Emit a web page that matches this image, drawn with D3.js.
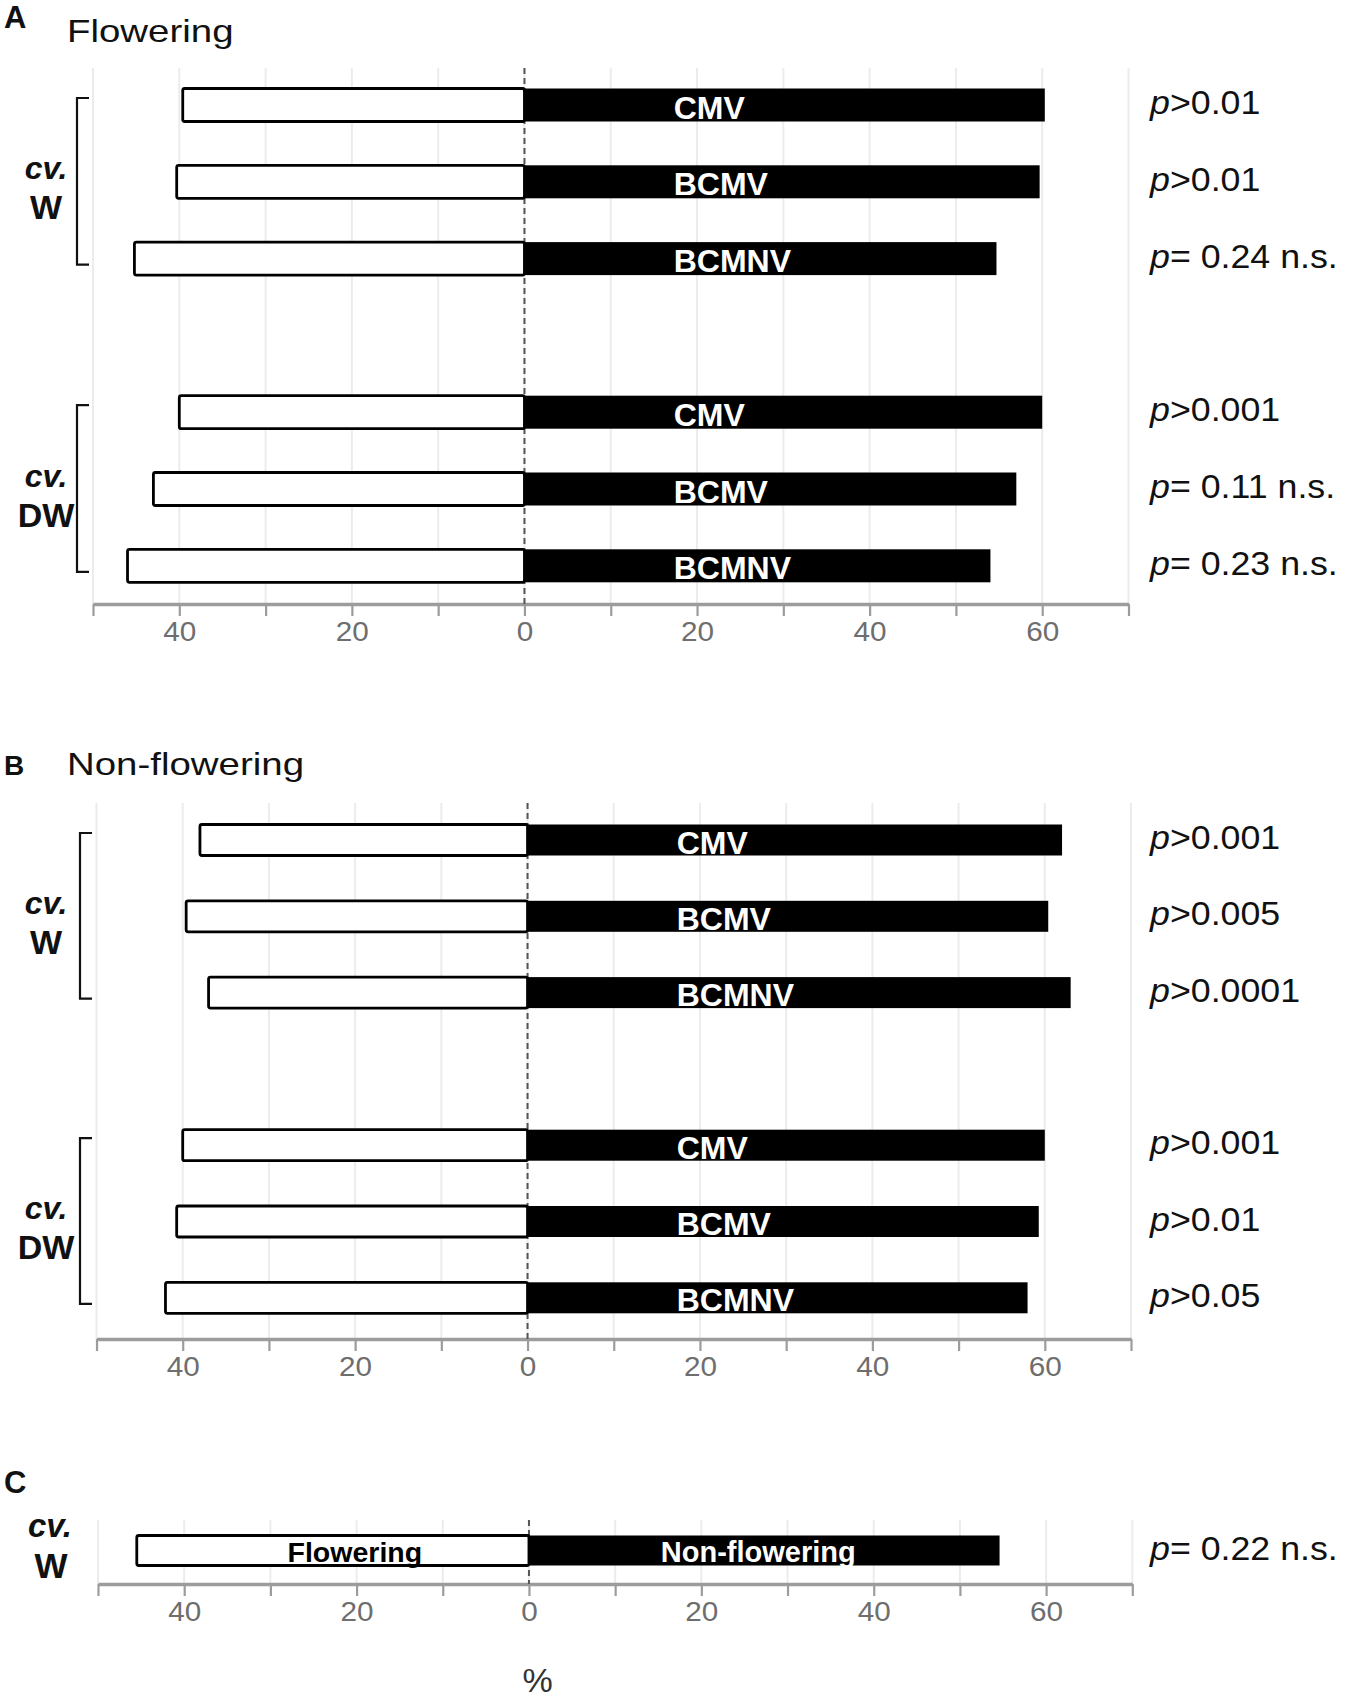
<!DOCTYPE html>
<html>
<head>
<meta charset="utf-8">
<script src="https://cdn.jsdelivr.net/npm/d3@7"></script>
<style>
  body { margin: 0; background: #fff; }
  svg text { font-family: "Liberation Sans", Arial, sans-serif; }
</style>
</head>
<body>
<div id="chart"></div>
<script>
// ---- data ----
const viruses = ["CMV", "BCMV", "BCMNV"];
const cultivars = ["W", "DW"];
const slotKeys = ["W-CMV", "W-BCMV", "W-BCMNV", "gap", "DW-CMV", "DW-BCMV", "DW-BCMNV"];

const xTickValues = [-50, -40, -30, -20, -10, 0, 10, 20, 30, 40, 50, 60, 70];
const xTickLabels = ["", "40", "", "20", "", "0", "", "20", "", "40", "", "60", ""];

// A: flowering plants (left = white bar, right = black bar), %
const floweringLeft = [39.6, 40.3, 45.2, 40.0, 43.0, 46.0];
const floweringRight = [60.3, 59.7, 54.7, 60.0, 57.0, 54.0];
const floweringP = ["p>0.01", "p>0.01", "p= 0.24 n.s.", "p>0.001", "p= 0.11 n.s.", "p= 0.23 n.s."];

// B: non-flowering plants
const nonFloweringLeft = [38.0, 39.6, 37.0, 40.0, 40.7, 42.0];
const nonFloweringRight = [62.0, 60.4, 63.0, 60.0, 59.3, 58.0];
const nonFloweringP = ["p>0.001", "p>0.005", "p>0.0001", "p>0.001", "p>0.01", "p>0.05"];

// C: flowering vs non-flowering, cv. W
const stageLabels = ["Flowering", "Non-flowering"];
const stageLeft = [45.5];
const stageRight = [54.6];
const stageP = ["p= 0.22 n.s."];

// ---- drawing ----
const svg = d3.select("#chart").append("svg")
    .attr("width", 1350)
    .attr("height", 1707);

function rowsFor(left, right, pvals) {
    let rows = [];
    let i = 0;
    for (let c of cultivars) {
        for (let v of viruses) {
            rows.push({ slot: c + "-" + v, cultivar: c, label: v, left: left[i], right: right[i], p: pvals[i] });
            i++;
        }
    }
    return rows;
}

function pText(g, x, y, str) {
    let t = g.append("text")
        .attr("transform", `translate(${x},${y}) scale(1.1,1)`)
        .attr("font-size", 32.5)
        .attr("fill", "#111");
    t.append("tspan").attr("font-style", "italic").text(str[0]);
    t.append("tspan").text(str.slice(1));
}

function title(letter, name, y, letterY, letterSize) {
    svg.append("text")
        .attr("x", 4).attr("y", letterY)
        .attr("font-weight", "bold").attr("font-size", letterSize)
        .attr("fill", "#111")
        .text(letter);
    if (name) {
        svg.append("text")
            .attr("transform", `translate(67,${y}) scale(1.22,1)`)
            .attr("font-size", 31.5).attr("fill", "#111")
            .text(name);
    }
}

function drawPanel(opts) {
    const x = d3.scaleLinear().domain([-50, 70]).range(opts.xRange);
    const y = d3.scalePoint().domain(opts.slots).range(opts.yRange);
    const g = svg.append("g");

    // vertical grid
    g.selectAll("line.grid").data(xTickValues).join("line")
        .attr("class", "grid")
        .attr("x1", d => x(d)).attr("x2", d => x(d))
        .attr("y1", opts.top).attr("y2", opts.axisY)
        .attr("stroke", "#ececec").attr("stroke-width", 2);

    // axis
    const axis = d3.axisBottom(x)
        .tickValues(xTickValues)
        .tickFormat((d, i) => xTickLabels[i])
        .tickSize(12).tickSizeOuter(0).tickPadding(6);
    g.append("g")
        .attr("transform", `translate(0,${opts.axisY})`)
        .call(axis)
        .attr("font-family", "Liberation Sans, Arial, sans-serif")
        .attr("font-size", 27)
        .call(a => a.select(".domain").attr("stroke", "#9c9c9c").attr("stroke-width", 3.5))
        .call(a => a.selectAll(".tick line").attr("stroke", "#9c9c9c").attr("stroke-width", 2.2))
        .call(a => a.selectAll(".tick text").attr("fill", "#6e6e6e").attr("transform", "scale(1.1,1)"));

    // zero reference line
    g.append("line")
        .attr("x1", x(0)).attr("x2", x(0))
        .attr("y1", opts.top).attr("y2", opts.axisY)
        .attr("stroke", "#555").attr("stroke-width", 2)
        .attr("stroke-dasharray", "6,4");

    const h = opts.barH;
    g.selectAll("rect.left").data(opts.rows).join("rect")
        .attr("class", "left")
        .attr("x", d => x(-d.left))
        .attr("y", d => y(d.slot) - h / 2)
        .attr("width", d => x(0) - x(-d.left))
        .attr("height", h)
        .attr("rx", 2)
        .attr("fill", "#fff").attr("stroke", "#000").attr("stroke-width", 2.8);
    g.selectAll("rect.right").data(opts.rows).join("rect")
        .attr("class", "right")
        .attr("x", x(0))
        .attr("y", d => y(d.slot) - h / 2)
        .attr("width", d => x(d.right) - x(0))
        .attr("height", h)
        .attr("fill", "#000");

    // labels inside bars
    if (opts.stage) {
        g.append("text")
            .attr("x", x(-20.2)).attr("y", y(opts.rows[0].slot) + 11)
            .attr("text-anchor", "middle")
            .attr("font-weight", "bold").attr("font-size", 28.5).attr("fill", "#000")
            .text(stageLabels[0]);
        g.append("text")
            .attr("x", x(26.6)).attr("y", y(opts.rows[0].slot) + 11)
            .attr("text-anchor", "middle")
            .attr("font-weight", "bold").attr("font-size", 29).attr("fill", "#fff")
            .text(stageLabels[1]);
    } else {
        g.selectAll("text.vir").data(opts.rows).join("text")
            .attr("class", "vir")
            .attr("x", x(17.3))
            .attr("y", d => y(d.slot) + 13.5)
            .attr("font-weight", "bold").attr("font-size", 32).attr("fill", "#fff")
            .text(d => d.label);
    }

    // p values
    for (let d of opts.rows) {
        pText(g, 1150, y(d.slot) + 9, d.p);
    }

    // cultivar brackets and labels
    for (let c of cultivars) {
        let rs = opts.rows.filter(d => d.cultivar === c);
        if (!rs.length) continue;
        let y0 = y(rs[0].slot), y1 = y(rs[rs.length - 1].slot);
        if (rs.length > 1) {
            let top = y0 - 7, bot = y1 + 6;
            let mid = (top + bot) / 2;
            g.append("path")
                .attr("d", `M${opts.bracketX + 12},${top}H${opts.bracketX}V${bot}H${opts.bracketX + 12}`)
                .attr("fill", "none").attr("stroke", "#111").attr("stroke-width", 2.2);
            g.append("text")
                .attr("x", 46).attr("y", mid - 2)
                .attr("text-anchor", "middle")
                .attr("font-weight", "bold").attr("font-style", "italic").attr("font-size", 32)
                .attr("fill", "#111").text("cv.");
            g.append("text")
                .attr("x", 46).attr("y", mid + 38)
                .attr("text-anchor", "middle")
                .attr("font-weight", "bold").attr("font-size", 34)
                .attr("fill", "#111").text(c);
        } else {
            g.append("text")
                .attr("x", 50).attr("y", y0 - 14)
                .attr("text-anchor", "middle")
                .attr("font-weight", "bold").attr("font-style", "italic").attr("font-size", 33)
                .attr("fill", "#111").text("cv.");
            g.append("text")
                .attr("x", 51).attr("y", y0 + 27)
                .attr("text-anchor", "middle")
                .attr("font-weight", "bold").attr("font-size", 35)
                .attr("fill", "#111").text(c);
        }
    }
    return x;
}

// panel A
title("A", "Flowering", 42, 28, 31);
drawPanel({
    rows: rowsFor(floweringLeft, floweringRight, floweringP),
    slots: slotKeys,
    xRange: [93, 1128.5],
    yRange: [105, 565.8],
    top: 68, axisY: 604, barH: 33, bracketX: 77
});

// panel B
title("B", "Non-flowering", 775, 775, 28);
drawPanel({
    rows: rowsFor(nonFloweringLeft, nonFloweringRight, nonFloweringP),
    slots: slotKeys,
    xRange: [96.5, 1131],
    yRange: [840, 1297.8],
    top: 803, axisY: 1339, barH: 31, bracketX: 80
});

// panel C
title("C", null, 0, 1493, 31);
const xC = drawPanel({
    rows: [{ slot: "W-stage", cultivar: "W", label: "", left: stageLeft[0], right: stageRight[0], p: stageP[0] }],
    slots: ["W-stage"],
    xRange: [98, 1132.3],
    yRange: [1550.5, 1550.5],
    top: 1520, axisY: 1584, barH: 30, bracketX: 80, stage: true
});

svg.append("text")
    .attr("x", xC(1)).attr("y", 1692)
    .attr("text-anchor", "middle")
    .attr("font-size", 34).attr("fill", "#333")
    .text("%");
</script>
</body>
</html>
